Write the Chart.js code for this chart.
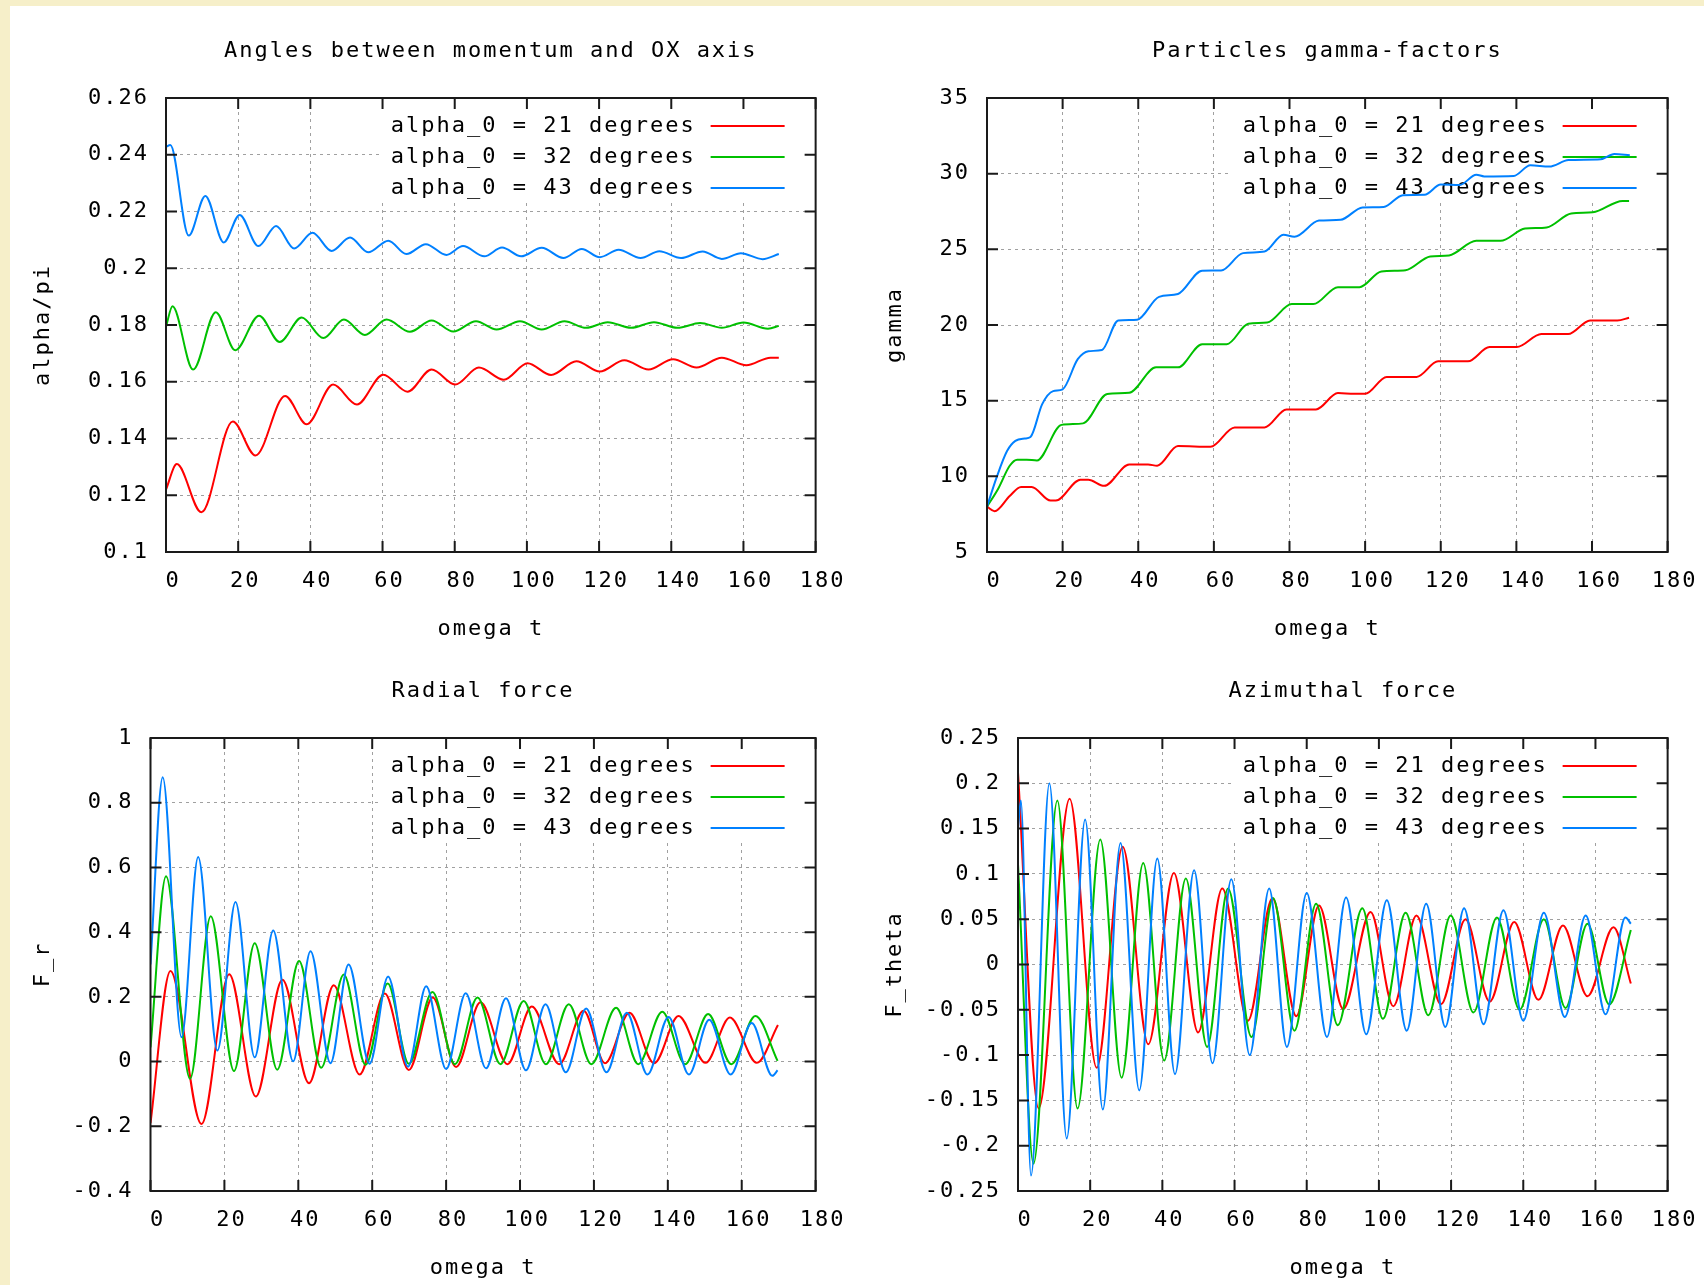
<!DOCTYPE html>
<html lang="en">
<head>
<meta charset="UTF-8" />
<script src="https://cdn.jsdelivr.net/npm/chart.js"></script>
<style>
  body { margin: 0; width: 1704px; height: 1285px; background: #f6efc9; position: relative; overflow: hidden; }
  .sheet { position: absolute; left: 10px; top: 6px; right: 0; bottom: 0; background: #fff; }
  canvas { position: absolute; }
  #angles { left: 0; top: 0; }
  #gamma { left: 852px; top: 0; }
  #radial { left: 0; top: 640px; }
  #azimuthal { left: 852px; top: 640px; }
</style>
</head>
<body>
<div class="sheet"></div>
<canvas id="angles" width="852" height="640"></canvas>
<canvas id="gamma" width="852" height="640"></canvas>
<canvas id="radial" width="852" height="645"></canvas>
<canvas id="azimuthal" width="852" height="645"></canvas>
<script>
const seriesLabels = ["alpha_0 = 21 degrees", "alpha_0 = 32 degrees", "alpha_0 = 43 degrees"];
const seriesColors = ["#ff0000", "#00c000", "#0080ff"];
const xTicks = [0, 20, 40, 60, 80, 100, 120, 140, 160, 180];

// angles between momentum and OX axis (alpha/pi)
const angTicks = [0.1, 0.12, 0.14, 0.16, 0.18, 0.2, 0.22, 0.24, 0.26];
const angRedX = [0, 3, 9.8, 18.5, 24.8, 33, 39, 46.3, 52.9, 60.2, 66.9, 73.6, 80.1, 86.7, 93.6, 100.2, 106.7, 113.7, 120.2, 127, 133.7, 140.5, 147, 154, 160.8, 167.5, 169.8];
const angRedY = [0.122, 0.131, 0.114, 0.146, 0.134, 0.155, 0.145, 0.159, 0.152, 0.1625, 0.1565, 0.1643, 0.159, 0.165, 0.1607, 0.1665, 0.1624, 0.1672, 0.1636, 0.1676, 0.1643, 0.1679, 0.165, 0.1685, 0.1658, 0.1685, 0.1685];
const angGreenX = [0, 1.8, 7.5, 13.8, 19.2, 25.8, 31.5, 37.6, 43.6, 49.3, 55.1, 61.1, 67.6, 73.6, 79.6, 85.9, 91.6, 98.1, 104.1, 110.4, 116.4, 122.4, 128.9, 135.2, 141.7, 148, 154, 160, 166.8, 169.8];
const angGreenY = [0.1794, 0.1866, 0.1643, 0.1845, 0.1711, 0.1833, 0.174, 0.1826, 0.1754, 0.1819, 0.1765, 0.1819, 0.1776, 0.1816, 0.1777, 0.1813, 0.1784, 0.1813, 0.1784, 0.1813, 0.179, 0.181, 0.179, 0.181, 0.179, 0.1807, 0.179, 0.1809, 0.1787, 0.1797];
const angBlueX = [0, 1.2, 6.3, 10.9, 16, 20.4, 25.6, 30.5, 35.5, 40.6, 45.9, 51, 56, 61.6, 66.6, 72, 77.7, 82.3, 88.2, 93.1, 98.4, 104.1, 110.1, 115.2, 120.2, 125.4, 131.5, 136.7, 142.7, 148.7, 154, 159.3, 165.3, 169.8];
const angBlueY = [0.2428, 0.2434, 0.2115, 0.2255, 0.2091, 0.2188, 0.2078, 0.2149, 0.207, 0.2125, 0.2061, 0.2108, 0.2056, 0.2097, 0.205, 0.2085, 0.2047, 0.2078, 0.2042, 0.2073, 0.2042, 0.2072, 0.2036, 0.2068, 0.2039, 0.2065, 0.2036, 0.206, 0.2036, 0.2059, 0.2033, 0.2053, 0.2032, 0.205];

// gamma factors
const gamTicks = [5, 10, 15, 20, 25, 30, 35];
const gamRedX = [0, 2, 6, 9, 11.8, 16.8, 18.2, 24.7, 26.8, 31, 37.6, 42.6, 45, 50.5, 59.1, 65.5, 73.4, 79.2, 87, 92.8, 97.1, 100, 105.7, 113.6, 119.3, 127.2, 132.9, 140.1, 146.6, 153.7, 159.5, 166.7, 169.8];
const gamRedY = [8.0, 7.7, 8.7, 9.3, 9.3, 8.4, 8.4, 9.78, 9.78, 9.37, 10.78, 10.78, 10.7, 12.0, 11.95, 13.23, 13.23, 14.42, 14.42, 15.5, 15.45, 15.45, 16.57, 16.57, 17.6, 17.6, 18.54, 18.54, 19.4, 19.4, 20.3, 20.3, 20.48];
const gamGreenX = [0, 3, 6, 8, 10.5, 13.2, 19.7, 25.4, 31.8, 37.6, 44.7, 50.5, 56.9, 63.4, 69.1, 74.1, 80.6, 86.3, 92.8, 98.5, 104.3, 110.7, 117.2, 122.2, 129.4, 135.8, 142.3, 148, 154.5, 160.2, 168.1, 169.8];
const gamGreenY = [8.0, 9.2, 10.7, 11.1, 11.1, 11.05, 13.4, 13.5, 15.44, 15.52, 17.2, 17.2, 18.73, 18.73, 20.08, 20.16, 21.38, 21.38, 22.5, 22.5, 23.54, 23.62, 24.53, 24.6, 25.56, 25.56, 26.37, 26.45, 27.37, 27.45, 28.2, 28.2];
const gamBlueX = [0, 2.5, 5.3, 7.5, 10, 11.5, 14.6, 17.5, 20, 24, 26.8, 30.4, 34.7, 39.7, 45.5, 50.5, 56.9, 61.9, 67.7, 73.4, 78.4, 81.3, 87.8, 93.5, 99.3, 104.9, 110, 115.7, 120, 125, 129.4, 131.5, 139.3, 143.7, 148.7, 153.8, 162.3, 165.9, 170];
const gamBlueY = [8.0, 9.9, 11.67, 12.34, 12.5, 12.6, 14.77, 15.63, 15.75, 17.74, 18.27, 18.35, 20.3, 20.35, 21.86, 22.05, 23.59, 23.6, 24.75, 24.85, 25.96, 25.83, 26.9, 26.95, 27.77, 27.8, 28.58, 28.6, 29.28, 29.25, 29.93, 29.82, 29.85, 30.55, 30.47, 30.9, 30.95, 31.3, 31.22];

// radial force F_r
const radTicks = [-0.4, -0.2, 0, 0.2, 0.4, 0.6, 0.8, 1];
const radRedX = [0, 5.4, 13.8, 21.3, 28.5, 35.7, 42.9, 49.6, 56.6, 63.4, 69.9, 76.4, 82.7, 89.3, 96.6, 103.2, 110.6, 117.2, 123, 129.6, 136.3, 142.9, 150.2, 156.8, 164.1, 169.8];
const radRedY = [-0.19, 0.28, -0.193, 0.27, -0.108, 0.253, -0.067, 0.236, -0.04, 0.21, -0.026, 0.198, -0.017, 0.183, -0.008, 0.17, -0.008, 0.157, -0.005, 0.151, -0.005, 0.141, -0.004, 0.136, -0.004, 0.113];
const radGreenX = [0, 4.2, 10.7, 16.3, 22.6, 28.2, 34.3, 40.2, 46.2, 52.3, 58.2, 64.2, 69.9, 76.3, 82.4, 88.5, 94.7, 101, 107, 113.2, 119.3, 126, 132, 138.5, 144.7, 150.9, 157.2, 163.7, 169.7];
const radGreenY = [0.044, 0.573, -0.053, 0.449, -0.029, 0.366, -0.025, 0.311, -0.019, 0.269, -0.01, 0.241, -0.007, 0.215, -0.008, 0.198, -0.008, 0.187, -0.008, 0.177, -0.008, 0.166, -0.008, 0.154, -0.008, 0.147, -0.008, 0.141, 0.002];
const radBlueX = [0, 3.3, 8.4, 12.9, 18.1, 23, 28.2, 33.2, 38.6, 43.3, 48.7, 53.6, 59.3, 64.3, 69.7, 74.6, 80, 85.3, 90.8, 96.2, 101.6, 106.9, 112.4, 117.9, 123.4, 128.9, 134.5, 140.2, 145.7, 151.2, 157, 162.7, 168.3, 169.7];
const radBlueY = [0.3, 0.879, 0.075, 0.632, 0.034, 0.493, 0.013, 0.405, 0.001, 0.341, -0.005, 0.3, -0.007, 0.263, -0.016, 0.233, -0.023, 0.211, -0.021, 0.196, -0.027, 0.177, -0.033, 0.164, -0.033, 0.151, -0.04, 0.138, -0.04, 0.129, -0.04, 0.119, -0.044, -0.027];

// azimuthal force F_theta
const azTicks = [-0.25, -0.2, -0.15, -0.1, -0.05, 0, 0.05, 0.1, 0.15, 0.2, 0.25];
const azRedX = [0, 5.7, 14.3, 21.8, 29, 36.1, 43.2, 49.9, 56.6, 63.7, 70.5, 77.1, 83.4, 90.1, 97.7, 104, 110.4, 117.2, 124, 130.7, 137.5, 144.2, 151, 157.8, 165, 169.8];
const azRedY = [0.212, -0.159, 0.183, -0.114, 0.13, -0.088, 0.101, -0.075, 0.084, -0.062, 0.073, -0.057, 0.065, -0.049, 0.058, -0.046, 0.054, -0.044, 0.05, -0.041, 0.047, -0.039, 0.043, -0.035, 0.041, -0.021];
const azGreenX = [0, 4.3, 10.9, 16.5, 22.8, 28.7, 34.7, 40.5, 46.5, 52.4, 58.2, 64.7, 70.7, 76.6, 82.6, 88.6, 95.4, 101.1, 107.4, 113.7, 119.9, 126.2, 132.7, 139, 145.7, 151.7, 157.8, 163.8, 169.8];
const azGreenY = [0.111, -0.22, 0.181, -0.159, 0.138, -0.125, 0.112, -0.106, 0.095, -0.091, 0.084, -0.08, 0.073, -0.073, 0.067, -0.067, 0.062, -0.06, 0.057, -0.056, 0.054, -0.053, 0.052, -0.05, 0.05, -0.048, 0.045, -0.044, 0.038];
const azBlueX = [0, 0.8, 3.6, 8.7, 13.5, 18.6, 23.5, 28.4, 33.6, 38.6, 43.5, 48.8, 53.9, 59.1, 64.2, 69.6, 74.5, 80, 85.6, 90.9, 96.5, 102.2, 107.7, 113.1, 118.4, 123.6, 129, 134.5, 140, 145.7, 151.5, 157.3, 162.8, 168.3, 169.8];
const azBlueY = [0.15, 0.181, -0.233, 0.2, -0.192, 0.16, -0.16, 0.134, -0.139, 0.117, -0.121, 0.104, -0.109, 0.094, -0.1, 0.084, -0.091, 0.079, -0.08, 0.074, -0.077, 0.071, -0.073, 0.067, -0.069, 0.062, -0.066, 0.06, -0.062, 0.057, -0.058, 0.054, -0.055, 0.052, 0.045];

const FONT = '"DejaVu Sans Mono", monospace';
Chart.defaults.font.family = FONT;
Chart.defaults.font.size = 22;
Chart.defaults.color = "#000";

const fmt = v => String(+(+v).toFixed(3));
const points = (xs, ys) => xs.map((x, i) => ({ x, y: ys[i] }));

// gnuplot-ish text spacing
const spacing = { id: "spacing", beforeDraw(chart) { chart.ctx.letterSpacing = "2px"; } };

// full box + inward ticks on all four sides
const frame = {
  id: "frame",
  afterDatasetsDraw(chart) {
    const { ctx, chartArea: a, scales: { x, y } } = chart;
    const len = 11;
    ctx.save();
    ctx.strokeStyle = "#1a1a1a";
    ctx.lineWidth = 2;
    ctx.setLineDash([]);
    ctx.beginPath();
    x.ticks.forEach(t => {
      const p = x.getPixelForValue(t.value);
      ctx.moveTo(p, a.bottom); ctx.lineTo(p, a.bottom - len);
      ctx.moveTo(p, a.top); ctx.lineTo(p, a.top + len);
    });
    y.ticks.forEach(t => {
      const p = y.getPixelForValue(t.value);
      ctx.moveTo(a.left, p); ctx.lineTo(a.left + len, p);
      ctx.moveTo(a.right, p); ctx.lineTo(a.right - len, p);
    });
    ctx.stroke();
    ctx.strokeRect(a.left, a.top, a.width, a.height);
    ctx.restore();
  }
};

// key in the top right corner, text then line sample
const key = {
  id: "key",
  beforeDatasetsDraw(chart) {
    const { ctx, chartArea: a } = chart;
    ctx.save();
    ctx.fillStyle = "#fff";
    ctx.fillRect(a.right - 436, a.top + 1, 426, 103);
    ctx.font = "22px " + FONT;
    ctx.textAlign = "right";
    ctx.textBaseline = "middle";
    chart.data.datasets.forEach((ds, i) => {
      const yy = a.top + 28 + i * 31;
      ctx.fillStyle = "#000";
      ctx.fillText(ds.label, a.right - 120, yy);
      ctx.strokeStyle = ds.borderColor;
      ctx.lineWidth = 2;
      ctx.beginPath();
      ctx.moveTo(a.right - 105, yy);
      ctx.lineTo(a.right - 31, yy);
      ctx.stroke();
    });
    ctx.restore();
  }
};

function panel(id, cfg) {
  const canvas = document.getElementById(id);
  const h = canvas.height;
  return new Chart(canvas, {
    type: "line",
    data: {
      datasets: cfg.series.map((s, i) => ({
        label: seriesLabels[i],
        data: points(s[0], s[1]),
        borderColor: seriesColors[i],
        borderWidth: 2,
        pointRadius: 0,
        fill: false,
        cubicInterpolationMode: "monotone",
        order: 2 - i
      }))
    },
    options: {
      responsive: false,
      animation: false,
      events: [],
      layout: { padding: { left: 30, right: 35, top: 0, bottom: 0 } },
      plugins: {
        legend: { display: false },
        tooltip: { enabled: false },
        title: {
          display: true,
          text: cfg.title,
          fullSize: false,
          color: "#000",
          font: { size: 22, weight: "normal", lineHeight: 1.2 },
          padding: { top: 38, bottom: 33.6 }
        }
      },
      scales: {
        x: {
          type: "linear",
          min: 0,
          max: 180,
          afterBuildTicks: s => { s.ticks = xTicks.map(v => ({ value: v })); },
          afterFit: s => { s.height = h - cfg.bottom; },
          ticks: { padding: 16.5, labelOffset: 7, maxRotation: 0, autoSkip: false, callback: fmt },
          grid: { color: "#a0a0a0", lineWidth: 1, drawTicks: false },
          border: { display: false, dash: [3, 4] },
          title: { display: true, text: "omega t", font: { size: 22, lineHeight: 1.2 }, padding: { top: 0, bottom: cfg.xTitlePad } }
        },
        y: {
          type: "linear",
          min: cfg.ticks[0],
          max: cfg.ticks[cfg.ticks.length - 1],
          afterBuildTicks: s => { s.ticks = cfg.ticks.map(v => ({ value: v })); },
          afterFit: s => { s.width = cfg.left - 30; },
          ticks: { padding: 17, autoSkip: false, callback: fmt },
          grid: { color: "#a0a0a0", lineWidth: 1, drawTicks: false },
          border: { display: false, dash: [3, 4] },
          title: { display: true, text: cfg.yTitle, font: { size: 22, lineHeight: 1.2 }, padding: { top: 0, bottom: 0 } }
        }
      }
    },
    plugins: [spacing, key, frame]
  });
}

panel("angles", {
  title: "Angles between momentum and OX axis", yTitle: "alpha/pi",
  ticks: angTicks, left: 166, bottom: 552, xTitlePad: -2,
  series: [[angRedX, angRedY], [angGreenX, angGreenY], [angBlueX, angBlueY]]
});
panel("gamma", {
  title: "Particles gamma-factors", yTitle: "gamma",
  ticks: gamTicks, left: 135, bottom: 552, xTitlePad: -2,
  series: [[gamRedX, gamRedY], [gamGreenX, gamGreenY], [gamBlueX, gamBlueY]]
});
panel("radial", {
  title: "Radial force", yTitle: "F_r",
  ticks: radTicks, left: 150.5, bottom: 551, xTitlePad: 4,
  series: [[radRedX, radRedY], [radGreenX, radGreenY], [radBlueX, radBlueY]]
});
panel("azimuthal", {
  title: "Azimuthal force", yTitle: "F_theta",
  ticks: azTicks, left: 166, bottom: 551, xTitlePad: 4,
  series: [[azRedX, azRedY], [azGreenX, azGreenY], [azBlueX, azBlueY]]
});
</script>
</body>
</html>
